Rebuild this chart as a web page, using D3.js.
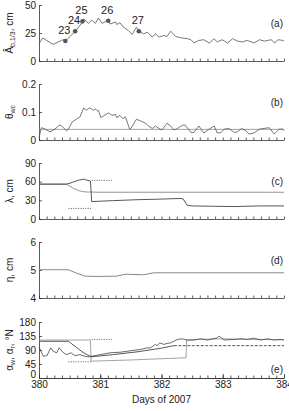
<!DOCTYPE html>
<html>
<head>
<meta charset="utf-8">
<script src="https://cdn.jsdelivr.net/npm/d3@7"></script>
<style>
  body { margin: 0; background: #fff; }
  text { font-family: "Liberation Sans", Arial, sans-serif; fill: #222; }
  .axis path, .axis line { stroke: #333; stroke-width: 0.8; }
  .axis text { font-size: 10px; fill: #222; }
</style>
</head>
<body>
<div id="chart"></div>
<script>
// ---- data ----
var ampDays = [380.00,380.06,380.21,380.235,380.37,380.40,380.43,380.51,380.59,380.66,380.71,380.73,380.81,380.86,380.92,380.97,381.03,381.10,381.13,381.16,381.25,381.27,381.32,381.38,381.46,381.52,381.59,381.63,381.66,381.71,381.77,381.85,381.90,381.96,382.04,382.09,382.15,382.23,382.31,382.42,382.48,382.53,382.61,382.69,382.78,382.86,382.91,382.99,383.08,383.16,383.24,383.32,383.40,383.51,383.60,383.68,383.79,383.85,383.90,383.98,384.00];
var ampValues = [15.5,20.5,15.5,14.9,18.4,19.0,17.8,22.0,26.6,31.0,35.4,37.4,33.6,36.5,33.6,38.3,33.6,35.4,36.0,33.0,34.8,32.5,34.2,30.1,27.2,23.7,30.1,26.6,25.7,24.3,25.7,21.3,24.3,21.3,22.8,21.9,26.6,21.9,20.8,19.9,19.0,16.1,18.4,19.0,16.1,19.9,17.0,19.0,16.1,19.9,17.8,17.0,18.4,16.1,19.0,17.8,19.0,16.1,19.0,18.4,17.8];
var markerNames = ["23","24","25","26","27"];
var markerDays = [380.43,380.59,380.71,381.13,381.63];
var markerValues = [17.8,26.6,35.4,36.0,26.6];

var thetaDays = [380.00,380.04,380.10,380.18,380.26,380.33,380.37,380.45,380.48,380.54,380.62,380.67,380.73,380.77,380.83,380.89,380.92,380.96,380.97,381.01,381.07,381.14,381.19,381.25,381.27,381.32,381.37,381.41,381.48,381.50,381.59,381.66,381.74,381.79,381.85,381.90,381.96,382.01,382.09,382.15,382.20,382.26,382.34,382.39,382.48,382.53,382.61,382.64,382.69,382.78,382.86,382.91,382.97,383.03,383.10,383.19,383.24,383.31,383.38,383.43,383.51,383.60,383.76,383.84,383.92,383.98,384.00];
var thetaValues = [0.009,0.044,0.039,0.029,0.039,0.053,0.050,0.033,0.039,0.064,0.076,0.083,0.115,0.106,0.115,0.106,0.111,0.103,0.106,0.080,0.088,0.097,0.088,0.091,0.080,0.088,0.076,0.083,0.039,0.041,0.074,0.068,0.060,0.050,0.041,0.050,0.041,0.036,0.060,0.050,0.036,0.041,0.053,0.053,0.027,0.027,0.050,0.041,0.025,0.039,0.050,0.025,0.027,0.039,0.041,0.027,0.029,0.041,0.033,0.021,0.025,0.039,0.044,0.021,0.039,0.039,0.033];
var thetaCritical = 0.038;

var lambdaObsDays = [380.00,380.45,380.55,380.65,380.73,380.80,380.84,380.86,381.20,381.60,382.00,382.30,382.35,382.42,382.50,382.80,383.20,383.60,384.00];
var lambdaObsValues = [56,56,59,62.5,64,62,61,28,29.5,31,32,33,32.5,22,21,20.5,20,21,21];
var lambdaModDays = [380.00,380.45,380.55,380.65,380.75,381.00,384.00];
var lambdaModValues = [56,56,50,45.5,43.5,43,43];
var lambdaRangeHi = [[380.86,381.19],[62,62]];
var lambdaRangeLo = [[380.48,380.85],[17,17]];

var etaDays = [380.00,380.48,380.60,380.75,380.95,381.27,381.41,381.71,381.87,384.00];
var etaValues = [5.01,5.01,4.90,4.78,4.77,4.78,4.85,4.83,4.90,4.90];

var alphaWDays = [380.00,380.07,380.13,380.19,380.23,380.29,380.33,380.40,380.45,380.52,380.59,380.67,380.75,380.81,380.85,380.92,381.00,381.16,381.33,381.44,381.55,381.66,381.77,381.82,381.90,381.93,381.97,382.04,382.09,382.15,382.26,382.34,382.42,382.53,382.64,382.75,382.91,382.94,383.02,383.19,383.30,383.40,383.51,383.62,383.73,383.84,383.95,384.00];
var alphaWValues = [100,70,72,97,86,81,97,81,75,81,72,75,70,68,70,72,75,81,83,86,89,92,97,97,108,104,113,108,111,113,124,126,122,122,126,122,129,135,122,124,126,124,128,122,126,122,124,122];
var alphaRObsDays = [380.00,380.48,380.60,380.72,380.85,381.20,381.60,382.00,382.20,384.00];
var alphaRObsValues = [118,118,100,82,68,75,84,96,104,104];
var alphaRModDays = [380.00,380.84,380.85,381.50,382.40,382.41,382.60,383.00,383.50,384.00];
var alphaRModValues = [122,122,54,58,65,122,124,126,124,123];
var alphaRangeHi = [[380.86,381.19],[124,124]];
var alphaRangeLo = [[380.48,380.85],[52,52]];

// ---- layout ----
var width = 289, height = 411;
var left = 39, right = 284, panelH = 56;
var panelTops = [5, 84, 163, 242, 322];

var svg = d3.select("#chart").append("svg")
  .attr("width", width).attr("height", height);

var x = d3.scaleLinear().domain([380, 384]).range([left, right]);

function makePanel(i, domain, ticks, fmt, tag) {
  var top = panelTops[i];
  var y = d3.scaleLinear().domain(domain).range([top + panelH, top]);
  var g = svg.append("g");

  g.append("g").attr("class", "axis y-axis")
    .attr("transform", "translate(" + left + ",0)")
    .call(d3.axisLeft(y).tickValues(ticks).tickFormat(fmt).tickSize(-3).tickSizeOuter(0).tickPadding(3));

  g.append("g").attr("class", "axis")
    .attr("transform", "translate(0," + (top + panelH) + ")")
    .call(d3.axisBottom(x).tickValues(d3.range(380, 384.01, 0.125)).tickFormat("").tickSize(-2.5).tickSizeOuter(0));

  g.append("text")
    .attr("x", right - 1)
    .attr("y", i == 4 ? top + panelH - 5 : top + 22)
    .attr("text-anchor", "end")
    .attr("font-size", "10px")
    .text(tag);
  return { g: g, y: y };
}

function drawLine(p, days, vals, color, w, dash) {
  var line = d3.line()
    .x(function(d) { return x(d[0]); })
    .y(function(d) { return p.y(d[1]); });
  p.g.append("path")
    .datum(d3.zip(days, vals))
    .attr("d", line)
    .attr("fill", "none")
    .attr("stroke", color)
    .attr("stroke-width", w)
    .attr("stroke-dasharray", dash || null);
}

function yLabel(top, parts) {
  var t = svg.append("text")
    .attr("transform", "translate(13," + (top + panelH / 2) + ") rotate(-90)")
    .attr("text-anchor", "middle")
    .attr("font-size", "10px");
  parts.forEach(function(p) {
    var s = t.append("tspan").text(p[0]);
    if (p[1] == "sub") s.attr("font-size", "7px").attr("dy", 2);
    if (p[1] == "up") s.attr("dy", -2);
  });
}

var fmtInt = d3.format("d");

// (a)
var pa = makePanel(0, [0, 50], [0, 25, 50], fmtInt, "(a)");
drawLine(pa, ampDays, ampValues, "#555", 0.8);
pa.g.selectAll(".mk")
  .data(d3.zip(markerNames, markerDays, markerValues))
  .enter().append("circle")
  .attr("cx", function(d) { return x(d[1]); })
  .attr("cy", function(d) { return pa.y(d[2]); })
  .attr("r", 2.3)
  .attr("fill", "#555");
pa.g.selectAll(".mt")
  .data(d3.zip(markerNames, markerDays, markerValues))
  .enter().append("text")
  .attr("x", function(d) { return x(d[1]) - 1; })
  .attr("y", function(d) { return pa.y(d[2]) - 7; })
  .attr("text-anchor", "middle")
  .attr("font-size", "11px")
  .text(function(d) { return d[0]; });
yLabel(panelTops[0], [["Â", ""], ["b,1/3", "sub"], [", cm", "up"]]);

// (b)
var pb = makePanel(1, [0, 0.2], [0, 0.1, 0.2], function(d) { return d == 0 ? "0" : d3.format(".1f")(d); }, "(b)");
drawLine(pb, [380, 384], [thetaCritical, thetaCritical], "#999", 0.9);
drawLine(pb, thetaDays, thetaValues, "#555", 0.8);
yLabel(panelTops[1], [["θ", ""], ["wc", "sub"]]);

// (c)
var pc = makePanel(2, [0, 90], [0, 30, 60, 90], fmtInt, "(c)");
drawLine(pc, lambdaModDays, lambdaModValues, "#888", 0.9);
drawLine(pc, lambdaObsDays, lambdaObsValues, "#444", 0.9);
drawLine(pc, lambdaRangeHi[0], lambdaRangeHi[1], "#666", 0.9, "1.2,1.2");
drawLine(pc, lambdaRangeLo[0], lambdaRangeLo[1], "#666", 0.9, "1.2,1.2");
yLabel(panelTops[2], [["λ, cm", ""]]);

// (d)
var pd = makePanel(3, [4, 6], [4, 5, 6], fmtInt, "(d)");
drawLine(pd, etaDays, etaValues, "#888", 1);
yLabel(panelTops[3], [["η, cm", ""]]);

// (e)
var pe = makePanel(4, [0, 180], [0, 45, 90, 135, 180], fmtInt, "(e)");
// lift the "0" a little so it sits on top of "380" as in the original
pe.g.select(".y-axis").selectAll(".tick text")
  .filter(function(d) { return d == 0; })
  .attr("dy", "-0.05em");
drawLine(pe, alphaRModDays, alphaRModValues, "#999", 0.9);
drawLine(pe, alphaRObsDays.slice(0, 9), alphaRObsValues.slice(0, 9), "#444", 0.9);
drawLine(pe, alphaRObsDays.slice(8), alphaRObsValues.slice(8), "#444", 0.9, "3,1.5");
drawLine(pe, alphaWDays, alphaWValues, "#444", 0.8);
drawLine(pe, alphaRangeHi[0], alphaRangeHi[1], "#666", 0.9, "1.2,1.2");
drawLine(pe, alphaRangeLo[0], alphaRangeLo[1], "#666", 0.9, "1.2,1.2");
yLabel(panelTops[4], [["α", ""], ["w", "sub"], [", α", "up"], ["r", "sub"], [", °N", "up"]]);

svg.append("g").attr("class", "axis")
  .attr("transform", "translate(0," + (panelTops[4] + panelH) + ")")
  .call(d3.axisBottom(x).tickValues([380, 381, 382, 383, 384]).tickFormat(fmtInt).tickSize(-4).tickSizeOuter(0).tickPadding(3));

svg.append("text")
  .attr("x", (left + right) / 2)
  .attr("y", 403)
  .attr("text-anchor", "middle")
  .attr("font-size", "10px")
  .text("Days of 2007");
</script>
</body>
</html>
